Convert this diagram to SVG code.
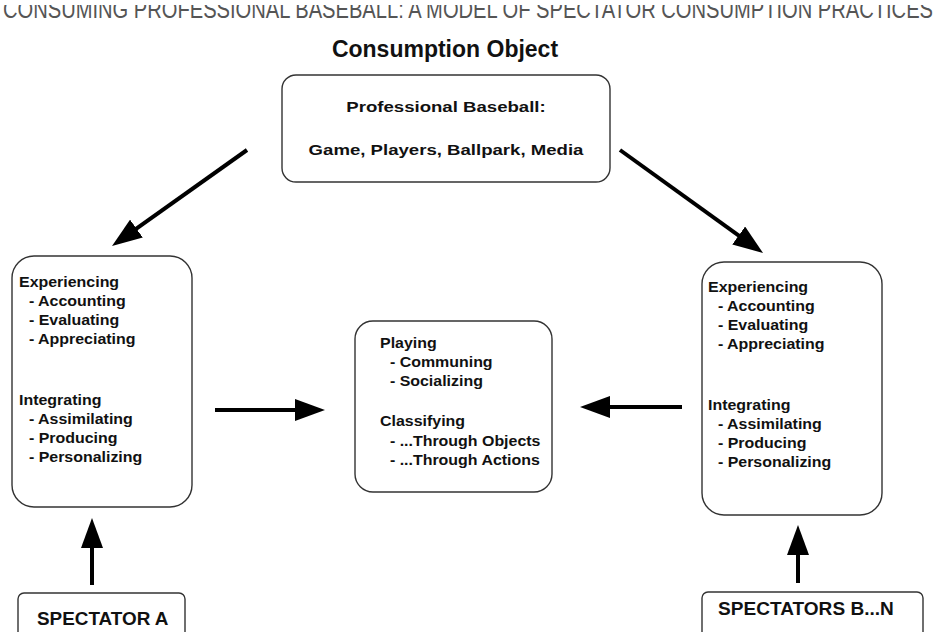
<svg xmlns="http://www.w3.org/2000/svg" width="936" height="632" viewBox="0 0 936 632">
<style>
.box{fill:#fff;stroke:#333;stroke-width:1.4}
.t{font-family:"Liberation Sans",Arial,sans-serif;font-weight:bold;fill:#111}
.s{font-size:14.5px}
.arr{stroke:#000;stroke-width:4;fill:none;marker-end:url(#ah)}
</style>
<defs>
<marker id="ah" markerUnits="userSpaceOnUse" markerWidth="30" markerHeight="22" viewBox="0 0 30 22" refX="10" refY="11" orient="auto">
<path d="M0,0 L30,11 L0,22 z" fill="#000"/>
</marker>
<clipPath id="hc"><rect x="0" y="5" width="936" height="30"/></clipPath>
</defs>
<rect width="936" height="632" fill="#fff"/>
<g id="header" clip-path="url(#hc)">
<text x="3" y="17.5" font-family="Liberation Sans,Arial,sans-serif" font-size="26" fill="#555" textLength="930" lengthAdjust="spacingAndGlyphs">CONSUMING PROFESSIONAL BASEBALL: A MODEL OF SPECTATOR CONSUMPTION PRACTICES</text>
</g>
<g id="title">
<text class="t" x="445" y="57" font-size="23" text-anchor="middle">Consumption Object</text>
</g>
<g id="consumption-object">
<rect class="box" x="282" y="75" width="328" height="107" rx="14"/>
<g transform="translate(446 0) scale(1.2 1)">
<text class="t" x="0" y="112" font-size="15.5" text-anchor="middle">Professional Baseball:</text>
<text class="t" x="0" y="155" font-size="15.5" text-anchor="middle">Game, Players, Ballpark, Media</text>
</g>
</g>
<g id="spectator-a-practices">
<rect class="box" x="12" y="256" width="180" height="251" rx="22"/>
<g class="t s" transform="translate(19 0) scale(1.1 1)">
<text x="0" y="287">Experiencing</text>
<text x="9" y="306">- Accounting</text>
<text x="9" y="325">- Evaluating</text>
<text x="9" y="344">- Appreciating</text>
<text x="0" y="405">Integrating</text>
<text x="9" y="424">- Assimilating</text>
<text x="9" y="443">- Producing</text>
<text x="9" y="462">- Personalizing</text>
</g>
</g>
<g id="spectators-bn-practices">
<rect class="box" x="702" y="262" width="180" height="253" rx="22"/>
<g class="t s" transform="translate(708 0) scale(1.1 1)">
<text x="0" y="292">Experiencing</text>
<text x="9" y="311">- Accounting</text>
<text x="9" y="330">- Evaluating</text>
<text x="9" y="349">- Appreciating</text>
<text x="0" y="410">Integrating</text>
<text x="9" y="429">- Assimilating</text>
<text x="9" y="448">- Producing</text>
<text x="9" y="467">- Personalizing</text>
</g>
</g>
<g id="playing-classifying">
<rect class="box" x="355" y="321" width="197" height="171" rx="18"/>
<g class="t s" transform="translate(380 0) scale(1.1 1)">
<text x="0" y="348">Playing</text>
<text x="9" y="367">- Communing</text>
<text x="9" y="386">- Socializing</text>
<text x="0" y="426">Classifying</text>
<text x="9" y="446">- ...Through Objects</text>
<text x="9" y="465">- ...Through Actions</text>
</g>
</g>
<g id="spectator-a">
<rect class="box" x="18" y="593" width="167" height="50" rx="6"/>
<text class="t" x="0" y="625" font-size="18" transform="translate(37 0) scale(1.05 1)">SPECTATOR A</text>
</g>
<g id="spectators-bn">
<rect class="box" x="702" y="592" width="221" height="50" rx="6"/>
<text class="t" x="0" y="615" font-size="18" transform="translate(718 0) scale(1.06 1)">SPECTATORS B...N</text>
</g>
<g id="connectors">
<line class="arr" x1="247" y1="150" x2="128.3" y2="234.4"/>
<line class="arr" x1="620" y1="150" x2="746.8" y2="241.3"/>
<line class="arr" x1="215" y1="410" x2="305" y2="410"/>
<line class="arr" x1="682" y1="407" x2="600" y2="407"/>
<line class="arr" x1="92" y1="585" x2="92" y2="538"/>
<line class="arr" x1="798" y1="583" x2="798" y2="545"/>
</g>
</svg>
